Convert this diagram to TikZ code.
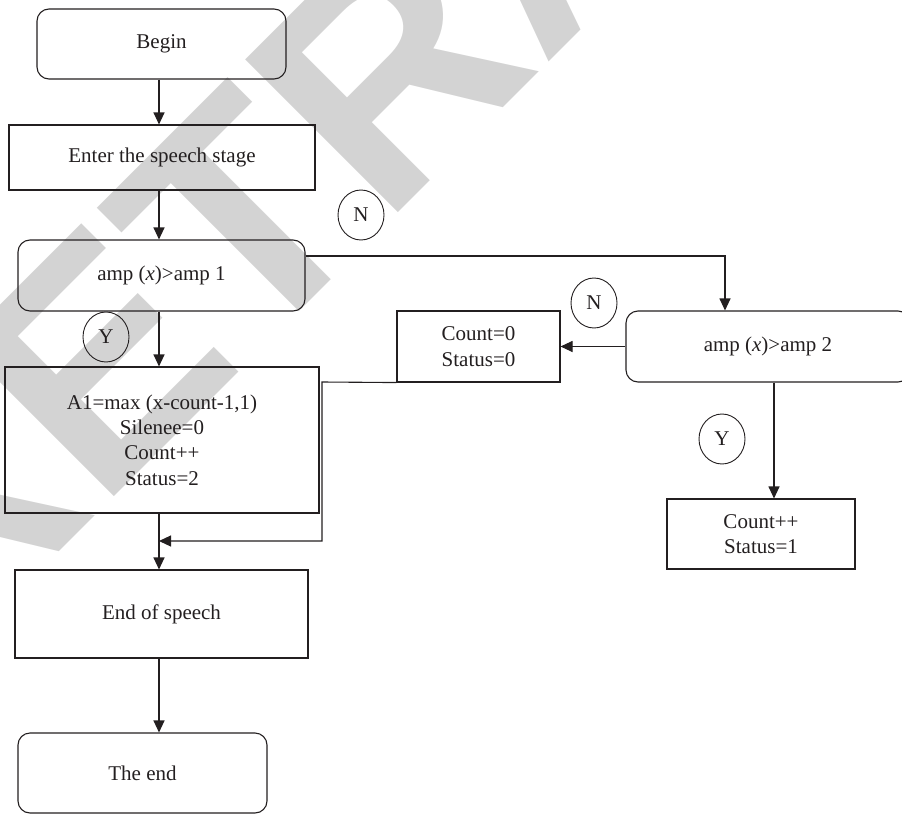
\documentclass[tikz,border=0pt]{standalone}
\usepackage{fontspec}
\setmainfont{Liberation Serif}
\newfontfamily\markfont{Liberation Sans}
\usetikzlibrary{arrows.meta,shapes.geometric}
\definecolor{wm}{HTML}{D3D3D3}
\definecolor{ink}{HTML}{231F20}
\tikzset{
  base/.style={draw=ink, line width=1.1pt, text=ink, align=center, inner sep=0pt,
    font=\fontsize{21}{25.4}\selectfont},
  box/.style={base, rectangle},
  rbox/.style={base, rectangle, rounded corners=12pt},
  tag/.style={base, ellipse, minimum width=46pt, minimum height=50pt, line width=0.9pt},
  flow/.style={draw=ink, line width=1.1pt, -{Triangle[length=12pt,width=11pt]}},
  wmark/.style={text=wm, rotate=45, inner sep=0pt,
    font=\markfont\bfseries\fontsize{314}{314}\selectfont}
}
\begin{document}
\begin{tikzpicture}[x=1pt,y=-1pt]
\useasboundingbox (0,0) rectangle (902,816);
\begin{scope}
\clip (0,0) rectangle (902,816);
% diagonal watermark lettering
\node[wmark, anchor=base east] (wmA) at (383.3,227.7) {RET};
\node[wmark, anchor=base west] (wmB) at (383.3,227.7) {RACTED};

% main column
\node[rbox, minimum width=249pt, minimum height=70pt] (begin) at (161.5,44) {Begin};
\node[box,  minimum width=306pt, minimum height=65pt] (enter) at (162,157.5) {Enter the speech stage};
\node[rbox, minimum width=287pt, minimum height=71pt] (amp1) at (161.5,275.5) {amp (\textit{x})>amp 1};
\node[box,  minimum width=314pt, minimum height=146pt] (a1) at (162,440)
  {A1=max (x-count-1,1)\\Silenee=0\\Count++\\Status=2};
\node[box,  minimum width=293pt, minimum height=88pt] (eos) at (161.5,614) {End of speech};
\node[rbox, minimum width=249pt, minimum height=80pt] (fin) at (142.5,773) {The end};

% right branch
\node[box,  minimum width=163pt, minimum height=71pt] (zero) at (478.5,346.5) {Count=0\\Status=0};
\node[rbox, minimum width=284pt, minimum height=71pt] (amp2) at (768,346.5) {amp (\textit{x})>amp 2};
\node[box,  minimum width=188pt, minimum height=70pt] (inc) at (761,534) {Count++\\Status=1};

% decision labels
\node[tag] (n1) at (361,215) {N};
\node[tag] (y1) at (106,337) {Y};
\node[tag] (n2) at (594,303) {N};
\node[tag] (y2) at (722,439) {Y};

% connectors
\draw[flow] ([xshift=-2.5pt]begin.south) -- ([xshift=-2.5pt]begin.south |- enter.north);
\draw[flow] ([xshift=-3pt]enter.south) -- ([xshift=-3pt]enter.south |- amp1.north);
\draw[flow] ([xshift=-2.5pt]amp1.south) -- ([xshift=-2.5pt]amp1.south |- a1.north);
\draw[flow] ([yshift=19.5pt]amp1.east) -| ([xshift=-43pt]amp2.north);
\draw[flow] (amp2.west) -- (zero.east);
\draw[flow] ([xshift=6pt]amp2.south) -- ([xshift=6pt]amp2.south |- inc.north);
\draw[flow] ([xshift=-3pt]a1.south) -- ([xshift=-3pt]a1.south |- eos.north);
\coordinate (merge) at (159,541);
\draw[flow] (zero.south west) -- (322,382) -- (322,541) -- (merge);
\draw[flow] ([xshift=-2.5pt]eos.south) -- ([xshift=-2.5pt]eos.south |- fin.north);
\end{scope}
\end{tikzpicture}
\end{document}
